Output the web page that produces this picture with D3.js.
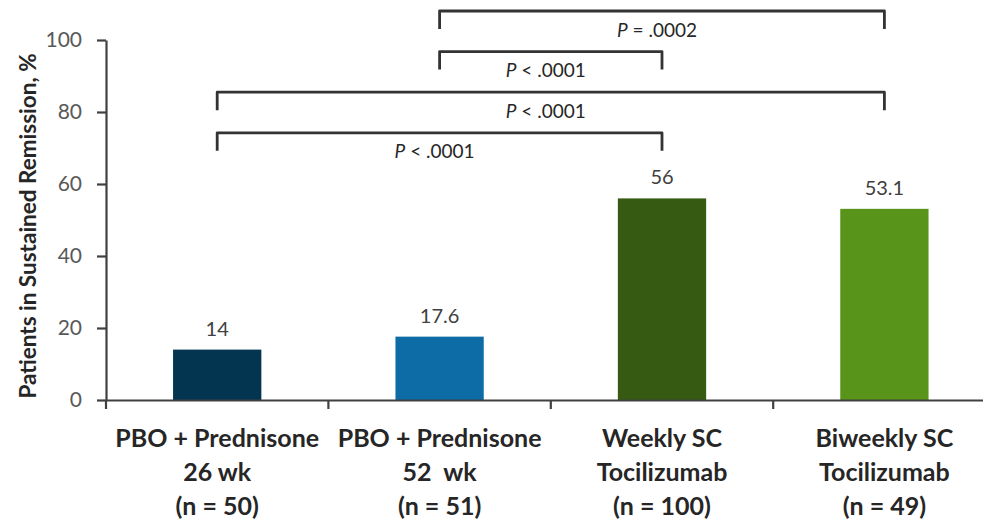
<html>
<head>
<meta charset="utf-8">
<title>Sustained remission</title>
<style>
  body { margin: 0; background: #fff; }
  text { font-family: Lato, "Open Sans", sans-serif; }
</style>
</head>
<body>
<script src="https://cdn.jsdelivr.net/npm/d3@7/dist/d3.min.js"></script>
<script>

// data
var categories = ["pbo26", "pbo52", "weekly", "biweekly"];
var labelLines = [
	["PBO + Prednisone", "26 wk", "(n = 50)"],
	["PBO + Prednisone", "52  wk", "(n = 51)"],
	["Weekly SC", "Tocilizumab", "(n = 100)"],
	["Biweekly SC", "Tocilizumab", "(n = 49)"]
];
var values = [14, 17.6, 56, 53.1];
var valueLabels = ["14", "17.6", "56", "53.1"];
var barColors = ["#033551", "#0d6ca6", "#365a12", "#58941a"];
var yTicks = [0, 20, 40, 60, 80, 100];

// significance brackets (top to bottom)
var bracketFrom = ["pbo52", "pbo52", "pbo26", "pbo26"];
var bracketTo   = ["biweekly", "weekly", "biweekly", "weekly"];
var bracketOp   = ["=", "<", "<", "<"];
var bracketP    = [".0002", ".0001", ".0001", ".0001"];

var width = 983;
var height = 523;

var svg = d3.select("body")
			.append("svg")
			.attr("width", width)
			.attr("height", height);

var x = d3.scaleBand()
		.domain(categories)
		.range([106, 995.6])
		.padding(0);

var y = d3.scaleLinear()
		.domain([0, 100])
		.range([400, 40]);

var barW = x.bandwidth() * 0.397;

// bars
svg.selectAll("rect.bar")
	.data(values)
	.enter()
	.append("rect")
	.attr("class", "bar")
	.attr("x", function(d, i){ return x(categories[i]) + x.bandwidth() / 2 - barW / 2; })
	.attr("y", function(d){ return y(d); })
	.attr("width", barW)
	.attr("height", function(d){ return y(0) - y(d); })
	.attr("fill", function(d, i){ return barColors[i]; });

// value labels
svg.selectAll("text.val")
	.data(values)
	.enter()
	.append("text")
	.attr("class", "val")
	.attr("x", function(d, i){ return x(categories[i]) + x.bandwidth() / 2; })
	.attr("y", function(d){ return y(d) - 14; })
	.attr("text-anchor", "middle")
	.attr("font-size", "20px")
	.attr("fill", "#404040")
	.text(function(d, i){ return valueLabels[i]; });

// y axis
var yAxis = d3.axisLeft(y)
		.tickValues(yTicks)
		.tickSize(9)
		.tickSizeOuter(0)
		.tickPadding(15);

var gy = svg.append("g")
		.attr("transform", "translate(106,0)")
		.call(yAxis);
gy.select(".domain").attr("stroke", "#404040").attr("stroke-width", 2.2);
gy.selectAll(".tick line").attr("stroke", "#404040").attr("stroke-width", 2.2);
gy.selectAll(".tick text")
	.attr("font-size", "21px")
	.attr("fill", "#595959")
	.style("font-family", "Lato, sans-serif");

// x axis: domain line plus ticks between categories
var xAxis = d3.axisBottom(x)
		.tickSize(0)
		.tickSizeOuter(0)
		.tickFormat("");

var gx = svg.append("g")
		.attr("transform", "translate(0,400)")
		.call(xAxis);
gx.select(".domain").attr("stroke", "#404040").attr("stroke-width", 2.2);
gx.selectAll(".tick").remove();

gx.selectAll("line.sep")
	.data(categories)
	.enter()
	.append("line")
	.attr("class", "sep")
	.attr("x1", function(d){ return x(d); })
	.attr("x2", function(d){ return x(d); })
	.attr("y1", 0)
	.attr("y2", 9)
	.attr("stroke", "#404040")
	.attr("stroke-width", 2.2);

// category labels
var lab = svg.selectAll("text.cat")
	.data(labelLines)
	.enter()
	.append("text")
	.attr("class", "cat")
	.attr("text-anchor", "middle")
	.attr("font-size", "25px")
	.attr("font-weight", "bold")
	.attr("fill", "#262626")
	.style("white-space", "pre");

lab.selectAll("tspan")
	.data(function(d, i){ return d.map(function(s){ return { s: s, i: i }; }); })
	.enter()
	.append("tspan")
	.attr("x", function(d){ return x(categories[d.i]) + x.bandwidth() / 2; })
	.attr("y", function(d, j){ return 447 + j * 34; })
	.text(function(d){ return d.s; });

// y axis title
svg.append("text")
	.attr("transform", "translate(36,226) rotate(-90)")
	.attr("text-anchor", "middle")
	.attr("font-size", "22.5px")
	.attr("font-weight", "bold")
	.attr("fill", "#262626")
	.text("Patients in Sustained Remission, %");

// brackets
var bracketY = function(i){ return 11 + i * 40.6; };
var legLen = 18;

svg.selectAll("path.bracket")
	.data(bracketFrom)
	.enter()
	.append("path")
	.attr("class", "bracket")
	.attr("d", function(d, i){
		var x1 = x(d) + x.bandwidth() / 2;
		var x2 = x(bracketTo[i]) + x.bandwidth() / 2;
		var yb = bracketY(i);
		return "M" + x1 + "," + (yb + legLen) + "V" + yb + "H" + x2 + "V" + (yb + legLen);
	})
	.attr("fill", "none")
	.attr("stroke", "#333333")
	.attr("stroke-width", 2.8)
	.attr("stroke-linejoin", "round");

var pText = svg.selectAll("text.pval")
	.data(bracketFrom)
	.enter()
	.append("text")
	.attr("class", "pval")
	.attr("x", function(d, i){
		var x1 = x(d) + x.bandwidth() / 2;
		var x2 = x(bracketTo[i]) + x.bandwidth() / 2;
		return (x1 + x2) / 2 - 5;
	})
	.attr("y", function(d, i){ return bracketY(i) + 25.5; })
	.attr("text-anchor", "middle")
	.attr("font-size", "19px")
	.attr("fill", "#262626");

pText.append("tspan")
	.attr("font-style", "italic")
	.text("P");
pText.append("tspan")
	.text(function(d, i){ return " " + bracketOp[i] + " " + bracketP[i]; });

</script>
</body>
</html>
